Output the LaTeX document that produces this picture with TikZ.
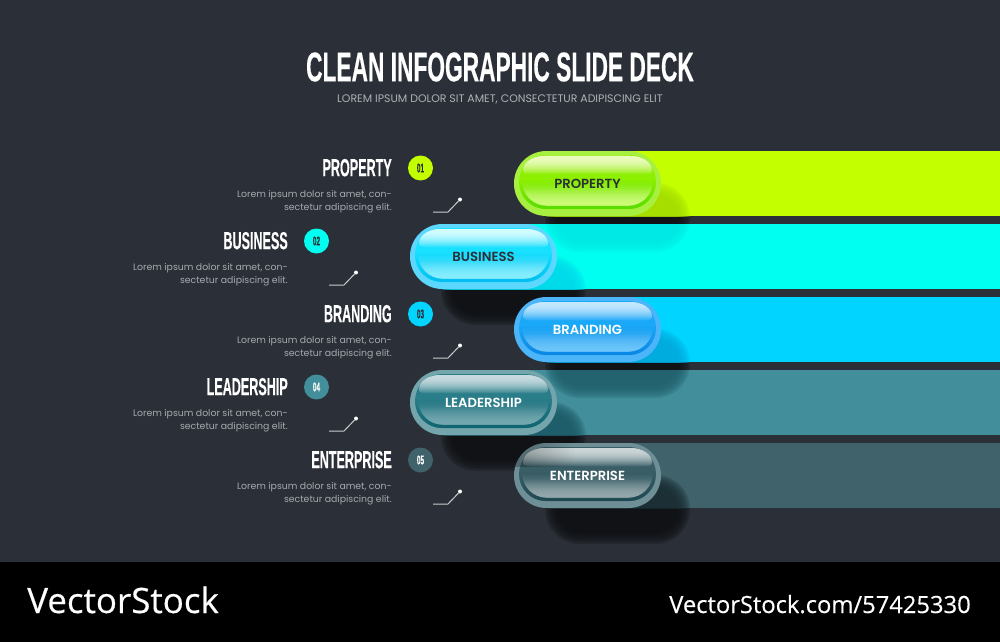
\documentclass[tikz,border=0pt]{standalone}
\usetikzlibrary{fadings}
\usepackage{fontspec}
\setmainfont{Poppins}
\newfontfamily\headf[FakeStretch=0.51,FakeBold=0.25]{Liberation Sans}
\newfontfamily\titlef[FakeStretch=0.55,FakeBold=0.3]{Liberation Sans}
\newfontfamily\pillf{Poppins}[UprightFont=* SemiBold]
\newfontfamily\logof[FakeBold=0.4]{Open Sans}
\definecolor{bgc}{HTML}{2B3038}
\definecolor{graytxt}{HTML}{A6A9AD}
\definecolor{shadowc}{HTML}{0E1013}
\definecolor{bar1}{HTML}{C4FF00}\definecolor{bar2}{HTML}{00FFF0}\definecolor{bar3}{HTML}{00D4FF}\definecolor{bar4}{HTML}{428F9B}\definecolor{bar5}{HTML}{3F626B}
\definecolor{out1}{HTML}{A8F040}\definecolor{out2}{HTML}{5CD8FF}\definecolor{out3}{HTML}{4CB4F8}\definecolor{out4}{HTML}{74A4AC}\definecolor{out5}{HTML}{6F8F96}
\definecolor{ring1}{HTML}{58DC00}\definecolor{ring2}{HTML}{00BEF0}\definecolor{ring3}{HTML}{0A86E4}\definecolor{ring4}{HTML}{0F6470}\definecolor{ring5}{HTML}{1E4852}
\definecolor{body1}{HTML}{8CF000}\definecolor{body2}{HTML}{18E0FF}\definecolor{body3}{HTML}{1AA8F8}\definecolor{body4}{HTML}{2A7E8A}\definecolor{body5}{HTML}{3A5E66}
\definecolor{hi1}{HTML}{ECFBC0}\definecolor{hi2}{HTML}{D4FCFF}\definecolor{hi3}{HTML}{C4E8FD}\definecolor{hi4}{HTML}{C8DCE0}\definecolor{hi5}{HTML}{CCD6D8}
\definecolor{lo1}{HTML}{CCFB78}\definecolor{lo2}{HTML}{88EEFF}\definecolor{lo3}{HTML}{6CC6FB}\definecolor{lo4}{HTML}{74A8B0}\definecolor{lo5}{HTML}{94A8AC}
\definecolor{txt1}{HTML}{2B3038}\definecolor{txt2}{HTML}{2B3038}\definecolor{txt3}{HTML}{FFFFFF}\definecolor{txt4}{HTML}{FFFFFF}\definecolor{txt5}{HTML}{FFFFFF}
\definecolor{own1}{HTML}{A4DC00}\definecolor{own2}{HTML}{00D8EA}\definecolor{own3}{HTML}{00A8DC}\definecolor{own4}{HTML}{1C5A66}\definecolor{own5}{HTML}{182A30}
\definecolor{nxt1}{HTML}{00E8E4}\definecolor{nxt2}{HTML}{00BCF0}\definecolor{nxt3}{HTML}{20606C}\definecolor{nxt4}{HTML}{3F626B}\definecolor{nxt5}{HTML}{3F626B}
\definecolor{num1}{HTML}{2B3038}\definecolor{num2}{HTML}{2B3038}\definecolor{num3}{HTML}{2B3038}\definecolor{num4}{HTML}{FFFFFF}\definecolor{num5}{HTML}{FFFFFF}
\newcommand{\softbox}[3]{% pill x, pill y, colour : blurred shadow offset from the pill
  \foreach \ins in {10,8,6,4,2,0,-2}{%
    \pgfmathsetmacro{\rr}{(32.5-\ins)*0.75}%
    \fill[#3,fill opacity=0.27,rounded corners=\rr pt]
      ({#1+33+\ins},{#2+34+\ins}) rectangle ({#1+174-\ins},{#2+99-\ins});}}
\newcommand{\pxfont}[1]{\fontsize{#1}{#1}\selectfont}
\tikzset{
  pillbox/.style={draw=none,inner sep=0pt,minimum width=110.25pt,minimum height=48.75pt,rounded corners=24.3pt},
  pilltxt/.style={inner sep=0pt,font=\pillf\pxfont{9.9pt}},
  headtxt/.style={inner sep=0pt,anchor=base east,text=white,font=\headf\bfseries\pxfont{18.5pt}},
  bodytxt/.style={inner sep=0pt,anchor=base east,text=graytxt,font=\pxfont{7pt}},
  numdot/.style={circle,inner sep=0pt,minimum size=18.75pt,font=\headf\bfseries\pxfont{9.5pt}},
  spark/.style={draw=white!75!bgc,line width=0.75pt},
  sparkdot/.style={circle,fill=white,inner sep=0pt,minimum size=3pt}
}
\begin{document}
\begin{tikzpicture}[x=0.75pt,y=-0.75pt]
\useasboundingbox (0,0) rectangle (1000,642);
\fill[bgc] (0,0) rectangle (1000,562);
% shadows on the background
\foreach \n/\px/\py in {1/514/151,2/410/224,3/514/297,4/410/370,5/514/443}{\softbox{\px}{\py}{shadowc}}
% bars
\foreach \n/\px/\py in {1/514/151,2/410/224,3/514/297,4/410/370,5/514/443}{
  \fill[bar\n] ({\px+32},\py) rectangle (1000,{\py+65});}
% shadows as they fall on the bars
\foreach \n/\nx/\px/\py in {1/442/514/151,2/546/410/224,3/442/514/297,4/546/410/370}{
  \begin{scope}\clip (\nx,{\py+73}) rectangle (1000,{\py+138});\softbox{\px}{\py}{nxt\n}\end{scope}}
\foreach \n/\px/\py in {1/514/151,2/410/224,3/514/297,4/410/370,5/514/443}{
  \begin{scope}\clip ({\px+32},\py) rectangle (1000,{\py+65});\softbox{\px}{\py}{own\n}\end{scope}}
% pills
\foreach \n/\px/\py/\lab in {1/514/151/PROPERTY,2/410/224/BUSINESS,3/514/297/BRANDING,4/410/370/LEADERSHIP,5/514/443/ENTERPRISE}{
  \begin{scope}[shift={(\px,\py)}]
    \node[pillbox,fill=out\n] (pill\n) at (73.5,32.5) {};
    \fill[body\n,rounded corners=20.2pt] (5,4) rectangle (142,58);
    \begin{scope}
      \clip[rounded corners=20.2pt] (5,4) rectangle (142,58);
      \fill[ring\n,path fading=north] (5,28) rectangle (142,58);
    \end{scope}
    \begin{scope}
      \clip[rounded corners=18.6pt] (8,5) rectangle (139,54.6);
      \fill[lo\n,path fading=north] (8,30) rectangle (139,54.6);
      \fill[lo\n,path fading=north] (8,36) rectangle (139,54.6);
    \end{scope}
    \foreach \rep in {1,2}{
    \fill[hi\n,path fading=south]
      (9,20) .. controls (9,11) and (19,5) .. (31,5) -- (116,5)
      .. controls (128,5) and (138,11) .. (138,20)
      .. controls (138,22) and (135,23.5) .. (131,23.5) -- (16,23.5)
      .. controls (12,23.5) and (9,22) .. (9,20) -- cycle;}
    \node[pilltxt,text=txt\n] (pilltext\n) at (73.5,32.5) {\lab};
  \end{scope}}
% shadow of pill 4 across the top of pill 5
\begin{scope}
  \clip[rounded corners=24.3pt] (514,443) rectangle (661,508);
  \fill[black,fill opacity=0.32,path fading=east] (505,443) rectangle (575,467);
\end{scope}
% labels
\foreach \n/\lx/\py/\lab in {1/392/151/PROPERTY,2/288/224/BUSINESS,3/392/297/BRANDING,4/288/370/LEADERSHIP,5/392/443/ENTERPRISE}{
  \begin{scope}[shift={(\lx,\py)}]
    \node[headtxt] (head\n) at (0,25.2) {\lab};
    \node[bodytxt] (lineA\n) at (0,46.5) {Lorem ipsum dolor sit amet, con-};
    \node[bodytxt] (lineB\n) at (0,59.5) {sectetur adipiscing elit.};
    \node[numdot,fill=bar\n,text=num\n] (num\n) at (28.5,17) {0\n};
    \coordinate (sA\n) at (41,61);
    \coordinate (sB\n) at (56,61);
    \node[sparkdot] (sC\n) at (68,48.5) {};
    \draw[spark] (sA\n) -- (sB\n) -- (sC\n);
  \end{scope}}
% title
\node[inner sep=0pt,text=white,font=\titlef\bfseries\pxfont{31pt}] (title) at (500,67) {CLEAN INFOGRAPHIC SLIDE DECK};
\node[inner sep=0pt,text=graytxt!90!white,font=\pxfont{8.2pt}] (subtitle) at (500,99.5) {LOREM IPSUM DOLOR SIT AMET, CONSECTETUR ADIPISCING ELIT};
% footer
\fill[black] (0,562) rectangle (1000,642);
\node[inner sep=0pt,anchor=base west,text=white,font=\logof\pxfont{26.2pt}] (logo) at (27,613) {VectorStock};
\node[inner sep=0pt,anchor=base east,text=white,font=\logof\pxfont{17.8pt}] (url) at (971,613) {VectorStock.com/57425330};
\end{tikzpicture}
\end{document}
